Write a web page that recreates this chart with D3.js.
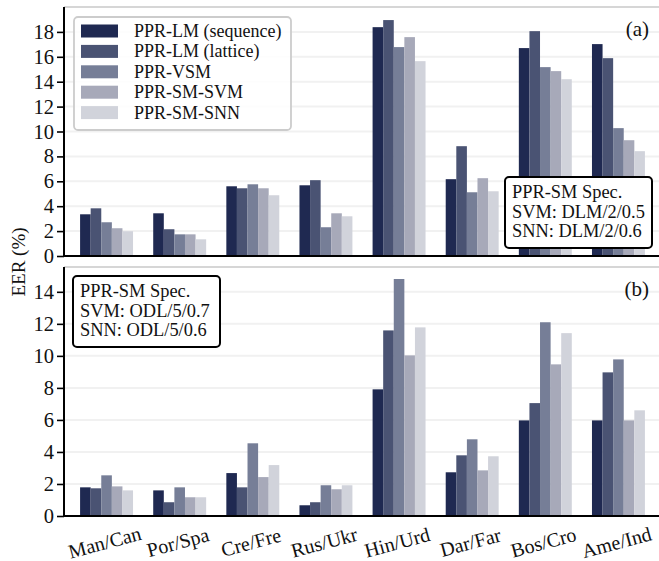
<!DOCTYPE html>
<html lang="en">
<head>
<meta charset="utf-8">
<title>EER bars</title>
<script src="https://cdn.jsdelivr.net/npm/d3@7"></script>
<style>
  body { margin: 0; background: #fff; }
  svg { display: block; }
  svg text { font-family: "Liberation Serif", "Times New Roman", serif; fill: #111; }
</style>
</head>
<body>
<script>
// language pairs
var pairs = ["Man/Can", "Por/Spa", "Cre/Fre", "Rus/Ukr", "Hin/Urd", "Dar/Far", "Bos/Cro", "Ame/Ind"];
var systems = ["PPR-LM (sequence)", "PPR-LM (lattice)", "PPR-VSM", "PPR-SM-SVM", "PPR-SM-SNN"];
var colors = ["#1f2951", "#4a5373", "#767e97", "#a7a9b9", "#d1d3db"];

// panel (a) EER values, one array per system
var aSeq     = [3.35, 3.43, 5.6,  5.68, 18.38, 6.17, 16.7,  17.02];
var aLattice = [3.83, 2.15, 5.44, 6.09, 18.95, 8.82, 18.06, 15.89];
var aVsm     = [2.71, 1.74, 5.76, 2.31, 16.78, 5.12, 15.17, 10.27];
var aSvm     = [2.23, 1.74, 5.44, 3.43, 17.58, 6.25, 14.85, 9.3];
var aSnn     = [1.99, 1.34, 4.88, 3.19, 15.65, 5.2,  14.2,  8.42];

// panel (b)
var bSeq     = [1.79, 1.6,  2.68, 0.67, 7.91,  2.73, 5.97,  5.97];
var bLattice = [1.73, 0.86, 1.79, 0.86, 11.59, 3.79, 7.05,  8.97];
var bVsm     = [2.54, 1.79, 4.54, 1.92, 14.8,  4.79, 12.1,  9.78];
var bSvm     = [1.85, 1.17, 2.43, 1.67, 10.03, 2.85, 9.47,  5.97];
var bSnn     = [1.6,  1.17, 3.18, 1.92, 11.78, 3.73, 11.42, 6.6];

var ticksA = [0, 2, 4, 6, 8, 10, 12, 14, 16, 18];
var ticksB = [0, 2, 4, 6, 8, 10, 12, 14];

var specA = ["PPR-SM Spec.", "SVM: DLM/2/0.5", "SNN: DLM/2/0.6"];
var specB = ["PPR-SM Spec.", "SVM: ODL/5/0.7", "SNN: ODL/5/0.6"];

var W = 659, H = 561;
var left = 64, right = 661;

var svg = d3.select("body").append("svg")
    .attr("width", W)
    .attr("height", H);

var x0 = d3.scaleBand()
    .domain(pairs)
    .range([left, right])
    .paddingInner(0.276)
    .paddingOuter(0.22);

var x1 = d3.scaleBand()
    .domain(d3.range(systems.length))
    .range([0, x0.bandwidth()]);

function panel(series, ymax, top, bottom, ticks, label, spec, specPos) {
    var y = d3.scaleLinear().domain([0, ymax]).range([bottom, top]);
    var g = svg.append("g");

    // grid
    g.selectAll("line.grid")
        .data(ticks.slice(1))
        .enter().append("line")
        .attr("x1", left).attr("x2", W)
        .attr("y1", function(d) { return y(d); })
        .attr("y2", function(d) { return y(d); })
        .attr("stroke", "#f1f1f1")
        .attr("stroke-width", 2);

    // top frame line
    g.append("line")
        .attr("x1", left).attr("x2", W)
        .attr("y1", top).attr("y2", top)
        .attr("stroke", "#d6d6d6")
        .attr("stroke-width", 2);

    // bars
    var groups = g.selectAll("g.pair")
        .data(pairs)
        .enter().append("g")
        .attr("transform", function(d) { return "translate(" + x0(d) + ",0)"; });

    groups.selectAll("rect")
        .data(function(d, i) {
            return series.map(function(s, j) { return {k: j, v: s[i]}; });
        })
        .enter().append("rect")
        .attr("x", function(d) { return x1(d.k); })
        .attr("width", x1.bandwidth())
        .attr("y", function(d) { return y(d.v); })
        .attr("height", function(d) { return bottom - y(d.v); })
        .attr("fill", function(d) { return colors[d.k]; });

    // y axis
    var ax = g.append("g")
        .attr("transform", "translate(" + left + ",0)")
        .call(d3.axisLeft(y).tickValues(ticks).tickSize(7).tickPadding(3).tickSizeOuter(0));
    ax.select(".domain").attr("stroke", "#000").attr("stroke-width", 2)
        .attr("d", "M0," + bottom + "V" + top);
    ax.selectAll(".tick line").attr("stroke", "#000").attr("stroke-width", 1.6);
    ax.selectAll(".tick text")
        .attr("font-family", null)
        .attr("font-size", 20.5);

    // baseline
    g.append("line")
        .attr("x1", left - 1).attr("x2", W)
        .attr("y1", bottom).attr("y2", bottom)
        .attr("stroke", "#000")
        .attr("stroke-width", 2);

    // panel label
    g.append("text")
        .attr("x", 649).attr("y", y(ymax) + 29)
        .attr("text-anchor", "end")
        .attr("font-size", 21)
        .text(label);

    // spec box
    var bx = g.append("g").attr("transform", "translate(" + specPos[0] + "," + specPos[1] + ")");
    bx.append("rect")
        .attr("width", 147).attr("height", 71)
        .attr("rx", 4).attr("ry", 4)
        .attr("fill", "#fff")
        .attr("stroke", "#000")
        .attr("stroke-width", 2);
    bx.selectAll("text")
        .data(spec)
        .enter().append("text")
        .attr("x", 7)
        .attr("y", function(d, i) { return 21 + i * 19.5; })
        .attr("font-size", 18.4)
        .text(function(d) { return d; });

    return y;
}

panel([aSeq, aLattice, aVsm, aSvm, aSnn], 20, 7, 256, ticksA, "(a)", specA, [505, 177]);
panel([bSeq, bLattice, bVsm, bSvm, bSnn], 15.55, 267, 516, ticksB, "(b)", specB, [73, 276]);

// legend
var leg = svg.append("g").attr("transform", "translate(74,17)");
leg.append("rect")
    .attr("width", 217).attr("height", 113)
    .attr("rx", 4).attr("ry", 4)
    .attr("fill", "#fff")
    .attr("fill-opacity", 0.85)
    .attr("stroke", "#cccccc")
    .attr("stroke-width", 1.8);
var items = leg.selectAll("g.item")
    .data(systems)
    .enter().append("g")
    .attr("transform", function(d, i) { return "translate(0," + (14 + i * 20.4) + ")"; });
items.append("rect")
    .attr("x", 7).attr("y", -6.5)
    .attr("width", 37).attr("height", 13)
    .attr("fill", function(d, i) { return colors[i]; });
items.append("text")
    .attr("x", 60).attr("y", 6)
    .attr("font-size", 18)
    .text(function(d) { return d; });

// x labels
svg.selectAll("text.xl")
    .data(pairs)
    .enter().append("text")
    .attr("class", "xl")
    .attr("transform", function(d) {
        return "translate(" + (x0(d) + x0.bandwidth() / 2) + ",549) rotate(-15)";
    })
    .attr("text-anchor", "middle")
    .attr("font-size", 20)
    .text(function(d) { return d; });

// y label
svg.append("text")
    .attr("transform", "translate(25,262) rotate(-90)")
    .attr("text-anchor", "middle")
    .attr("font-size", 19)
    .text("EER (%)");
</script>
</body>
</html>
